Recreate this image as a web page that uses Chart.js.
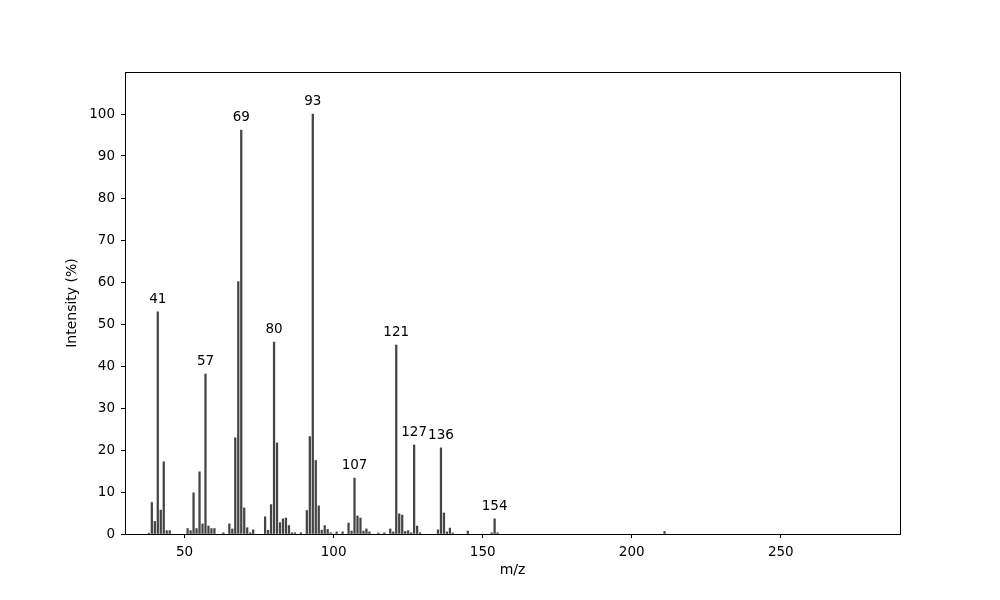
<!DOCTYPE html>
<html>
<head>
<meta charset="utf-8">
<script src="https://cdn.jsdelivr.net/npm/chart.js@4"></script>
<style>
    html, body { margin: 0; padding: 0; background: #fff; }
    #wrap { width: 1000px; height: 600px; }
</style>
</head>
<body>
<div id="wrap"><canvas id="specChart"></canvas></div>
<script>
// m/z values and relative intensities
const mzValues = [
    38, 39, 40, 41, 42, 43, 44, 45,
    51, 52, 53, 54, 55, 56, 57, 58, 59, 60, 63,
    65, 66, 67, 68, 69, 70, 71, 72, 73,
    77, 78, 79, 80, 81, 82, 83, 84, 85, 86, 87, 89,
    91, 92, 93, 94, 95, 96, 97, 98, 99,
    101, 103, 105, 106, 107, 108, 109, 110, 111, 112, 115, 117,
    119, 120, 121, 122, 123, 124, 125, 126, 127, 128, 129,
    135, 136, 137, 138, 139, 140, 145,
    153, 154, 155, 211
];
const intensities = [
    0.2, 7.5, 3.0, 52.9, 5.7, 17.2, 0.8, 0.8,
    1.3, 0.8, 9.8, 1.3, 14.8, 2.4, 38.1, 1.9, 1.3, 1.3, 0.3,
    2.4, 1.2, 22.9, 60.1, 96.2, 6.2, 1.5, 0.3, 1.0,
    4.1, 0.9, 7.0, 45.7, 21.7, 2.7, 3.6, 3.8, 2.0, 0.3, 0.3, 0.3,
    5.6, 23.2, 100, 17.5, 6.7, 0.9, 2.0, 1.1, 0.3,
    0.5, 0.5, 2.6, 0.7, 13.3, 4.3, 3.8, 0.7, 1.2, 0.5, 0.25, 0.3,
    1.2, 0.5, 45.0, 4.8, 4.5, 0.6, 0.8, 0.3, 21.2, 1.9, 0.3,
    1.0, 20.5, 5.0, 0.5, 1.4, 0.25, 0.7,
    0.3, 3.6, 0.3, 0.6
];
// peaks that get their m/z written above them
const labelledPeaks = [41, 57, 69, 80, 93, 107, 121, 127, 136, 154];
const xTicks = [50, 100, 150, 200, 250];
const yTicks = [0, 10, 20, 30, 40, 50, 60, 70, 80, 90, 100];

const points = mzValues.map((mz, i) => ({ x: mz, y: intensities[i] }));
const FONT = "'DejaVu Sans', sans-serif";

const peakLabels = {
    id: 'peakLabels',
    afterDatasetsDraw(chart) {
        const ctx = chart.ctx;
        const xs = chart.scales.x, ys = chart.scales.y;
        ctx.save();
        ctx.font = "13.5px " + FONT;
        ctx.fillStyle = '#000';
        ctx.textAlign = 'center';
        ctx.textBaseline = 'bottom';
        labelledPeaks.forEach(mz => {
            const i = mzValues.indexOf(mz);
            ctx.fillText(String(mz), xs.getPixelForValue(mz), ys.getPixelForValue(intensities[i]) - 6);
        });
        // box around the plot
        const a = chart.chartArea;
        ctx.strokeStyle = '#000';
        ctx.lineWidth = 1;
        ctx.strokeRect(Math.round(a.left) + 0.5, Math.round(a.top) + 0.5,
            Math.round(a.right - a.left), Math.round(a.bottom - a.top));
        ctx.restore();
    }
};

new Chart(document.getElementById('specChart').getContext('2d'), {
    type: 'bar',
    data: {
        datasets: [{
            data: points,
            backgroundColor: '#444444',
            barThickness: 1.6,
            borderWidth: 0
        }]
    },
    options: {
        responsive: true,
        maintainAspectRatio: false,
        animation: false,
        layout: { padding: { left: 58, right: 100, top: 72, bottom: 14 } },
        plugins: {
            legend: { display: false },
            tooltip: { enabled: false }
        },
        scales: {
            x: {
                type: 'linear',
                min: 30,
                max: 290,
                offset: false,
                afterBuildTicks: s => { s.ticks = xTicks.map(v => ({ value: v })); },
                afterFit: s => { s.height = 52; },
                grid: { offset: false, drawOnChartArea: false, tickLength: 4, color: '#000' },
                border: { color: '#000' },
                ticks: { color: '#000', font: { family: FONT, size: 13.5 }, padding: 6, maxRotation: 0 },
                title: { display: true, text: 'm/z', color: '#000', font: { family: FONT, size: 14 }, padding: { top: 0, bottom: 7 } }
            },
            y: {
                min: 0,
                max: 110,
                afterBuildTicks: s => { s.ticks = yTicks.map(v => ({ value: v })); },
                afterFit: s => { s.width = 67; },
                grid: { drawOnChartArea: false, tickLength: 4, color: '#000' },
                border: { color: '#000' },
                ticks: { color: '#000', font: { family: FONT, size: 13.5 }, padding: 6 },
                title: { display: true, text: 'Intensity (%)', color: '#000', font: { family: FONT, size: 14 }, padding: { top: 6, bottom: 0 } }
            }
        }
    },
    plugins: [peakLabels]
});
</script>
</body>
</html>
